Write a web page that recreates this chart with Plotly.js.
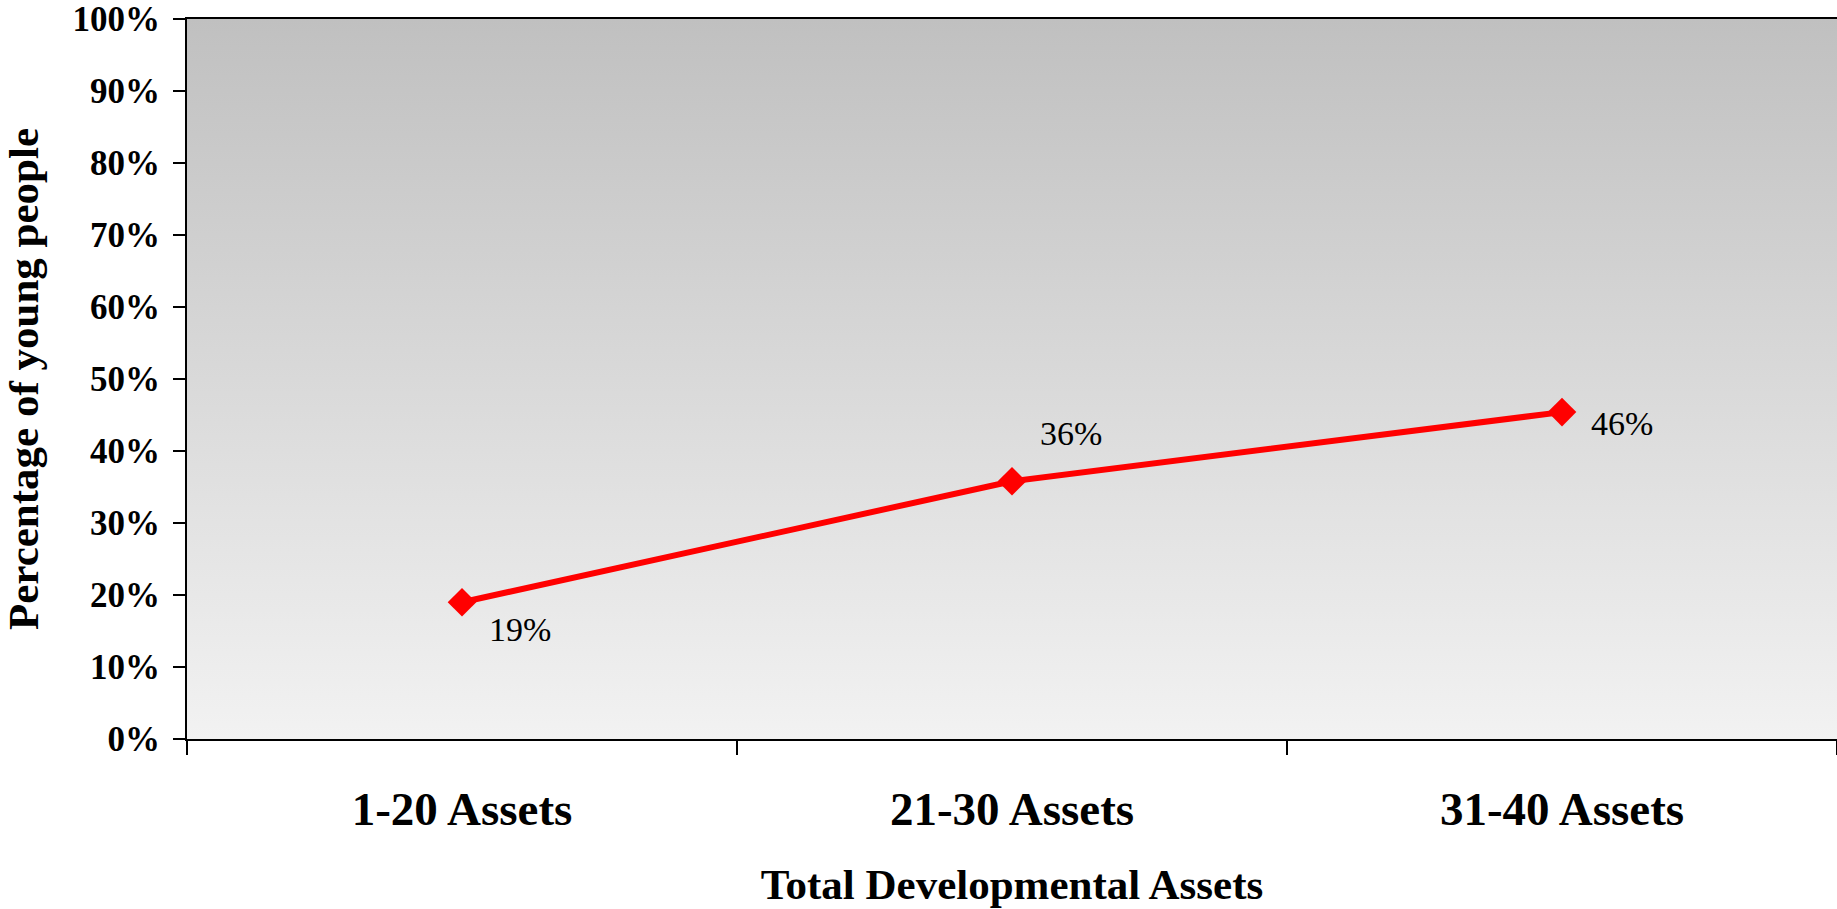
<!DOCTYPE html>
<html>
<head>
<meta charset="utf-8">
<script src="https://cdn.plot.ly/plotly-3.0.1.min.js"></script>
<style>
  html, body { margin: 0; padding: 0; background: #ffffff; }
  #chart { width: 1837px; height: 909px; }
</style>
</head>
<body>
<div id="chart"></div>
<script>
const categories = ["1-20 Assets", "21-30 Assets", "31-40 Assets"];
const values = [0.19, 0.358, 0.454];
const valueLabels = ["19%", "36%", "46%"];
const yTickVals = [0, 0.1, 0.2, 0.3, 0.4, 0.5, 0.6, 0.7, 0.8, 0.9, 1.0];

const labelShiftX = [58, 59, 60];
const labelShiftY = [-27, 48, -11];

const serif = "Liberation Serif";

const gradSvg = '<svg xmlns="http://www.w3.org/2000/svg" width="100" height="100" preserveAspectRatio="none">' +
  '<defs><linearGradient id="g" x1="0" y1="0" x2="0" y2="1">' +
  '<stop offset="0" stop-color="#c0c0c0"/><stop offset="1" stop-color="#f2f2f2"/>' +
  '</linearGradient></defs><rect width="100" height="100" fill="url(#g)"/></svg>';
const gradUri = 'data:image/svg+xml;base64,' + btoa(gradSvg);

const trace = {
  type: "scatter",
  mode: "lines+markers",
  x: categories,
  y: values,
  line: { color: "#ff0000", width: 6 },
  marker: { symbol: "diamond", size: 22, color: "#ff0000" },
  hoverinfo: "x+y"
};

const annotations = categories.map((c, i) => ({
  x: c, y: values[i], xref: "x", yref: "y",
  text: valueLabels[i], showarrow: false,
  xshift: labelShiftX[i], yshift: labelShiftY[i],
  font: { family: serif, size: 34, color: "#000000" }
}));

const layout = {
  width: 1837, height: 909,
  margin: { l: 187, r: 0, t: 19, b: 170 },
  paper_bgcolor: "#ffffff",
  plot_bgcolor: "rgba(0,0,0,0)",
  font: { family: serif },
  showlegend: false,
  images: [{
    source: gradUri, xref: "paper", yref: "paper",
    x: 0, y: 1, sizex: 1, sizey: 1, sizing: "stretch",
    xanchor: "left", yanchor: "top", layer: "below"
  }],
  xaxis: {
    type: "category",
    categoryarray: categories,
    range: [-0.5, 2.5],
    tickson: "boundaries",
    ticks: "outside", ticklen: 14, tickwidth: 2, tickcolor: "#000000",
    showline: true, linecolor: "#000000", linewidth: 2, mirror: true,
    showgrid: false, zeroline: false,
    tickfont: { family: serif, size: 47, color: "#000000", weight: "bold" },
    ticklabelstandoff: 28,
    title: {
      text: "<b>Total Developmental Assets</b>",
      font: { family: serif, size: 43, color: "#000000" },
      standoff: 34
    }
  },
  yaxis: {
    range: [0, 1],
    tickvals: yTickVals,
    tickformat: ".0%",
    ticks: "outside", ticklen: 12, tickwidth: 2, tickcolor: "#000000",
    showline: true, linecolor: "#000000", linewidth: 2,
    showgrid: false, zeroline: false,
    tickfont: { family: serif, size: 35, color: "#000000", weight: "bold" },
    ticklabelstandoff: 6,
    title: {
      text: "<b>Percentage of young people</b>",
      font: { family: serif, size: 43, color: "#000000" },
      standoff: 20
    }
  },
  annotations: annotations
};

Plotly.newPlot("chart", [trace], layout, { displayModeBar: false, staticPlot: true });
</script>
</body>
</html>
